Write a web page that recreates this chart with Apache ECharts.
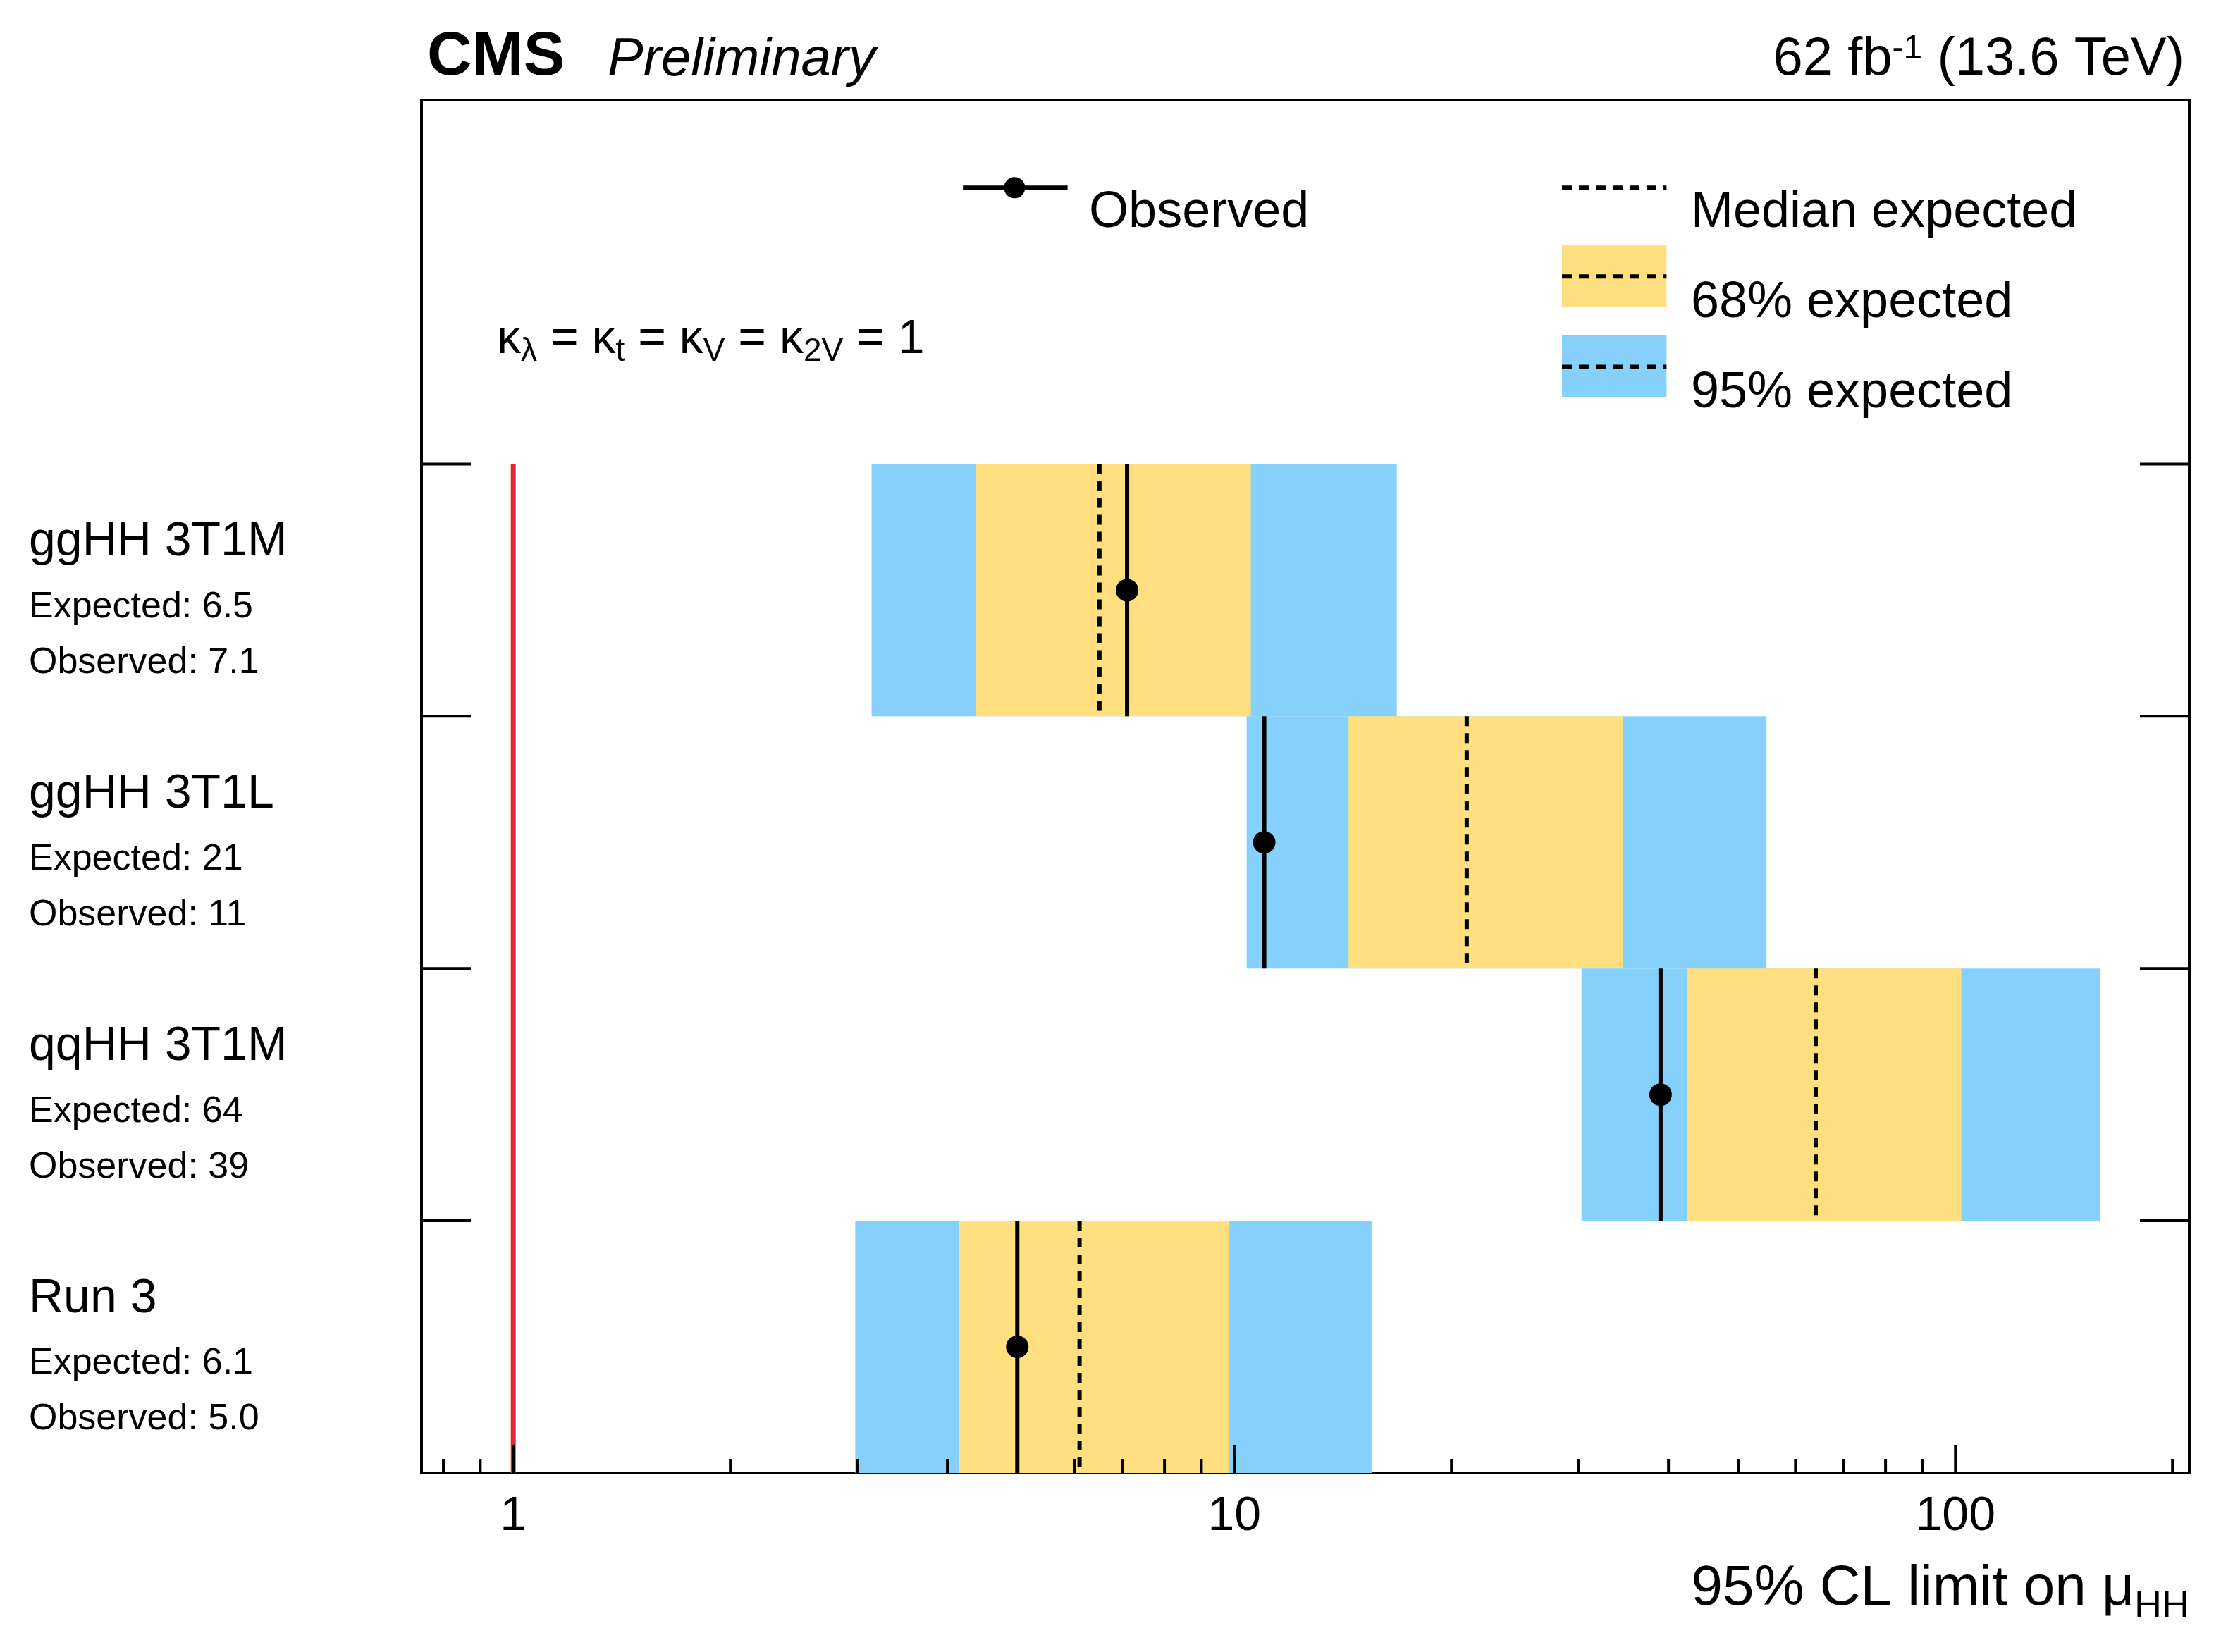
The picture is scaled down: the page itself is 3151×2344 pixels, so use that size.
<!DOCTYPE html>
<html><head><meta charset="utf-8">
<script src="https://cdn.jsdelivr.net/npm/echarts@6/dist/echarts.min.js"></script>
<style>html,body{margin:0;padding:0;background:#fff}#c{width:3151px;height:2344px}</style>
</head><body><div id="c"></div>
<script>
const categories = ["ggHH 3T1M","ggHH 3T1L","qqHH 3T1M","Run 3"];
const expectedText = ["6.5","21","64","6.1"];
const observedText = ["7.1","11","39","5.0"];
const lo95 = [3.14, 10.4, 30.3, 2.98];
const hi95 = [16.8, 54.7, 158.7, 15.5];
const lo68 = [4.38, 14.4, 42.5, 4.15];
const hi68 = [10.54, 34.6, 101.9, 9.84];
const expected = [6.5, 21, 64, 6.1];
const observed = [7.1, 11, 39, 5.0];
const majorTicks = [1, 10, 100];
const minorTicks = [0.8,0.9,2,3,4,5,6,7,8,9,20,30,40,50,60,70,80,90,200];
const rowBoundaries = [1,2,3,4];

const F = "Liberation Sans";
const BLUE = "#85d1fb", YEL = "#ffdf7f";
const nRows = categories.length;
const rows = categories.map((c,i)=>[lo95[i],hi95[i],lo68[i],hi68[i],expected[i],observed[i],nRows-0.5-i]);

const chart = echarts.init(document.getElementById('c'));
const S = 2.033;
function rect(x,y,w,h,fill){return {type:'rect',shape:{x:x*S,y:y*S,width:w*S,height:h*S},style:{fill:fill}};}
function dash(x1,x2,y){return {type:'line',shape:{x1:x1*S,y1:y*S,x2:x2*S,y2:y*S},style:{stroke:'#000',lineWidth:6,lineDash:[14,10]}};}

chart.setOption({
  animation:false,
  backgroundColor:'#fff',
  grid:{left:598,right:45,top:142,bottom:254,show:true,borderColor:'#000',borderWidth:4,backgroundColor:'transparent'},
  xAxis:{type:'log',logBase:10,min:0.746,max:211,
    axisLine:{show:false},splitLine:{show:false},axisTick:{show:false},
    axisLabel:{margin:28,fontFamily:F,fontSize:68,color:'#000',
      formatter:v=>majorTicks.some(m=>Math.abs(m-v)<1e-6*m)?String(Math.round(v)):''}},
  yAxis:{type:'value',min:0,max:5.443,show:false},
  graphic:[
    {type:'text',left:606,top:38,style:{text:'CMS',font:'bold 88px "'+F+'"',fill:'#000'}},
    {type:'text',left:862,top:48,style:{text:'Preliminary',font:'italic 76px "'+F+'"',fill:'#000'}},
    {type:'text',right:52,top:46,style:{rich:{n:{fontFamily:F,fontSize:76,fill:'#000'},s:{fontFamily:F,fontSize:48,verticalAlign:'top',padding:[0,0,30,0]}},text:'{n|62 fb}{s|-1}{n| (13.6 TeV)}'}},
    {type:'text',right:45,top:2215,style:{rich:{n:{fontFamily:F,fontSize:80,fill:'#000'},s:{fontFamily:F,fontSize:54,padding:[50,0,0,0]}},text:'{n|95% CL limit on μ}{s|HH}'}},
    {type:'text',left:705,top:448,style:{rich:{n:{fontFamily:F,fontSize:68,fill:'#000'},s:{fontFamily:F,fontSize:46,padding:[34,0,0,0]}},text:'{n|κ}{s|λ}{n| = κ}{s|t}{n| = κ}{s|V}{n| = κ}{s|2V}{n| = 1}'}},
    {type:'line',shape:{x1:672*S,y1:131*S,x2:745*S,y2:131*S},style:{stroke:'#000',lineWidth:6}},
    {type:'circle',shape:{cx:708*S,cy:131*S,r:15},style:{fill:'#000'}},
    {type:'text',left:760*S,top:131*S,style:{text:'Observed',font:'72px "'+F+'"',fill:'#000',verticalAlign:'middle'}},
    dash(1090,1163,131),
    {type:'text',left:1180*S,top:131*S,style:{text:'Median expected',font:'72px "'+F+'"',fill:'#000',verticalAlign:'middle'}},
    rect(1090,171,73,43,YEL), dash(1090,1163,193),
    {type:'text',left:1180*S,top:194*S,style:{text:'68% expected',font:'72px "'+F+'"',fill:'#000',verticalAlign:'middle'}},
    rect(1090,234,73,43,BLUE), dash(1090,1163,256),
    {type:'text',left:1180*S,top:257*S,style:{text:'95% expected',font:'72px "'+F+'"',fill:'#000',verticalAlign:'middle'}}
  ],
  series:[
    {type:'custom',data:rows,encode:{x:[0,1,2,3,4,5],y:6},z:2,
     renderItem:(p,api)=>{
       const c=api.value(6);
       const yt=api.coord([1,c+0.5])[1], yb=api.coord([1,c-0.5])[1], ym=api.coord([1,c])[1];
       const X=v=>api.coord([v,c])[0];
       return {type:'group',children:[
         {type:'rect',shape:{x:X(api.value(0)),y:yt,width:X(api.value(1))-X(api.value(0)),height:yb-yt},style:{fill:BLUE}},
         {type:'rect',shape:{x:X(api.value(2)),y:yt,width:X(api.value(3))-X(api.value(2)),height:yb-yt},style:{fill:YEL}},
         {type:'line',shape:{x1:X(api.value(4)),y1:yt,x2:X(api.value(4)),y2:yb},style:{stroke:'#000',lineWidth:6,lineDash:[14,10]}},
         {type:'line',shape:{x1:X(api.value(5)),y1:yt,x2:X(api.value(5)),y2:yb},style:{stroke:'#000',lineWidth:6}},
         {type:'circle',shape:{cx:X(api.value(5)),cy:ym,r:16},style:{fill:'#000'}}
       ]};
     }},
    {type:'custom',data:[[1,0,nRows]],encode:{x:0,y:[1,2]},z:3,
     renderItem:(p,api)=>{const a=api.coord([api.value(0),api.value(1)]),b=api.coord([api.value(0),api.value(2)]);
       return {type:'line',shape:{x1:a[0],y1:a[1],x2:b[0],y2:b[1]},style:{stroke:'#e42536',lineWidth:7}};}},
    {type:'custom',data:categories.map((c,i)=>[1,nRows-0.5-i,i]),encode:{x:0,y:1},clip:false,z:4,
     renderItem:(p,api)=>{const i=api.value(2), ym=api.coord([1,api.value(1)])[1];
       return {type:'group',children:[
         {type:'text',x:41,y:ym-68,style:{text:categories[i],font:'68px "'+F+'"',fill:'#000',verticalAlign:'middle'}},
         {type:'text',x:41,y:ym+24,style:{text:'Expected: '+expectedText[i],font:'52px "'+F+'"',fill:'#000',verticalAlign:'middle'}},
         {type:'text',x:41,y:ym+103,style:{text:'Observed: '+observedText[i],font:'52px "'+F+'"',fill:'#000',verticalAlign:'middle'}}
       ]};}},
    {type:'custom',data:majorTicks.map(v=>[v,0,40]).concat(minorTicks.map(v=>[v,0,20])),encode:{x:0,y:1},clip:false,z:5,
     renderItem:(p,api)=>{const a=api.coord([api.value(0),0]);const L=api.value(2);
       return {type:'line',shape:{x1:a[0],y1:a[1],x2:a[0],y2:a[1]-L},style:{stroke:'#000',lineWidth:4}};}},
    {type:'custom',data:rowBoundaries.map(v=>[1,v]),encode:{x:0,y:1},clip:false,z:5,
     renderItem:(p,api)=>{const y=api.coord([1,api.value(1)])[1];
       return {type:'group',children:[
         {type:'line',shape:{x1:598,y1:y,x2:598+70,y2:y},style:{stroke:'#000',lineWidth:4}},
         {type:'line',shape:{x1:3106,y1:y,x2:3106-70,y2:y},style:{stroke:'#000',lineWidth:4}}]};}}
  ]
});
</script></body></html>
